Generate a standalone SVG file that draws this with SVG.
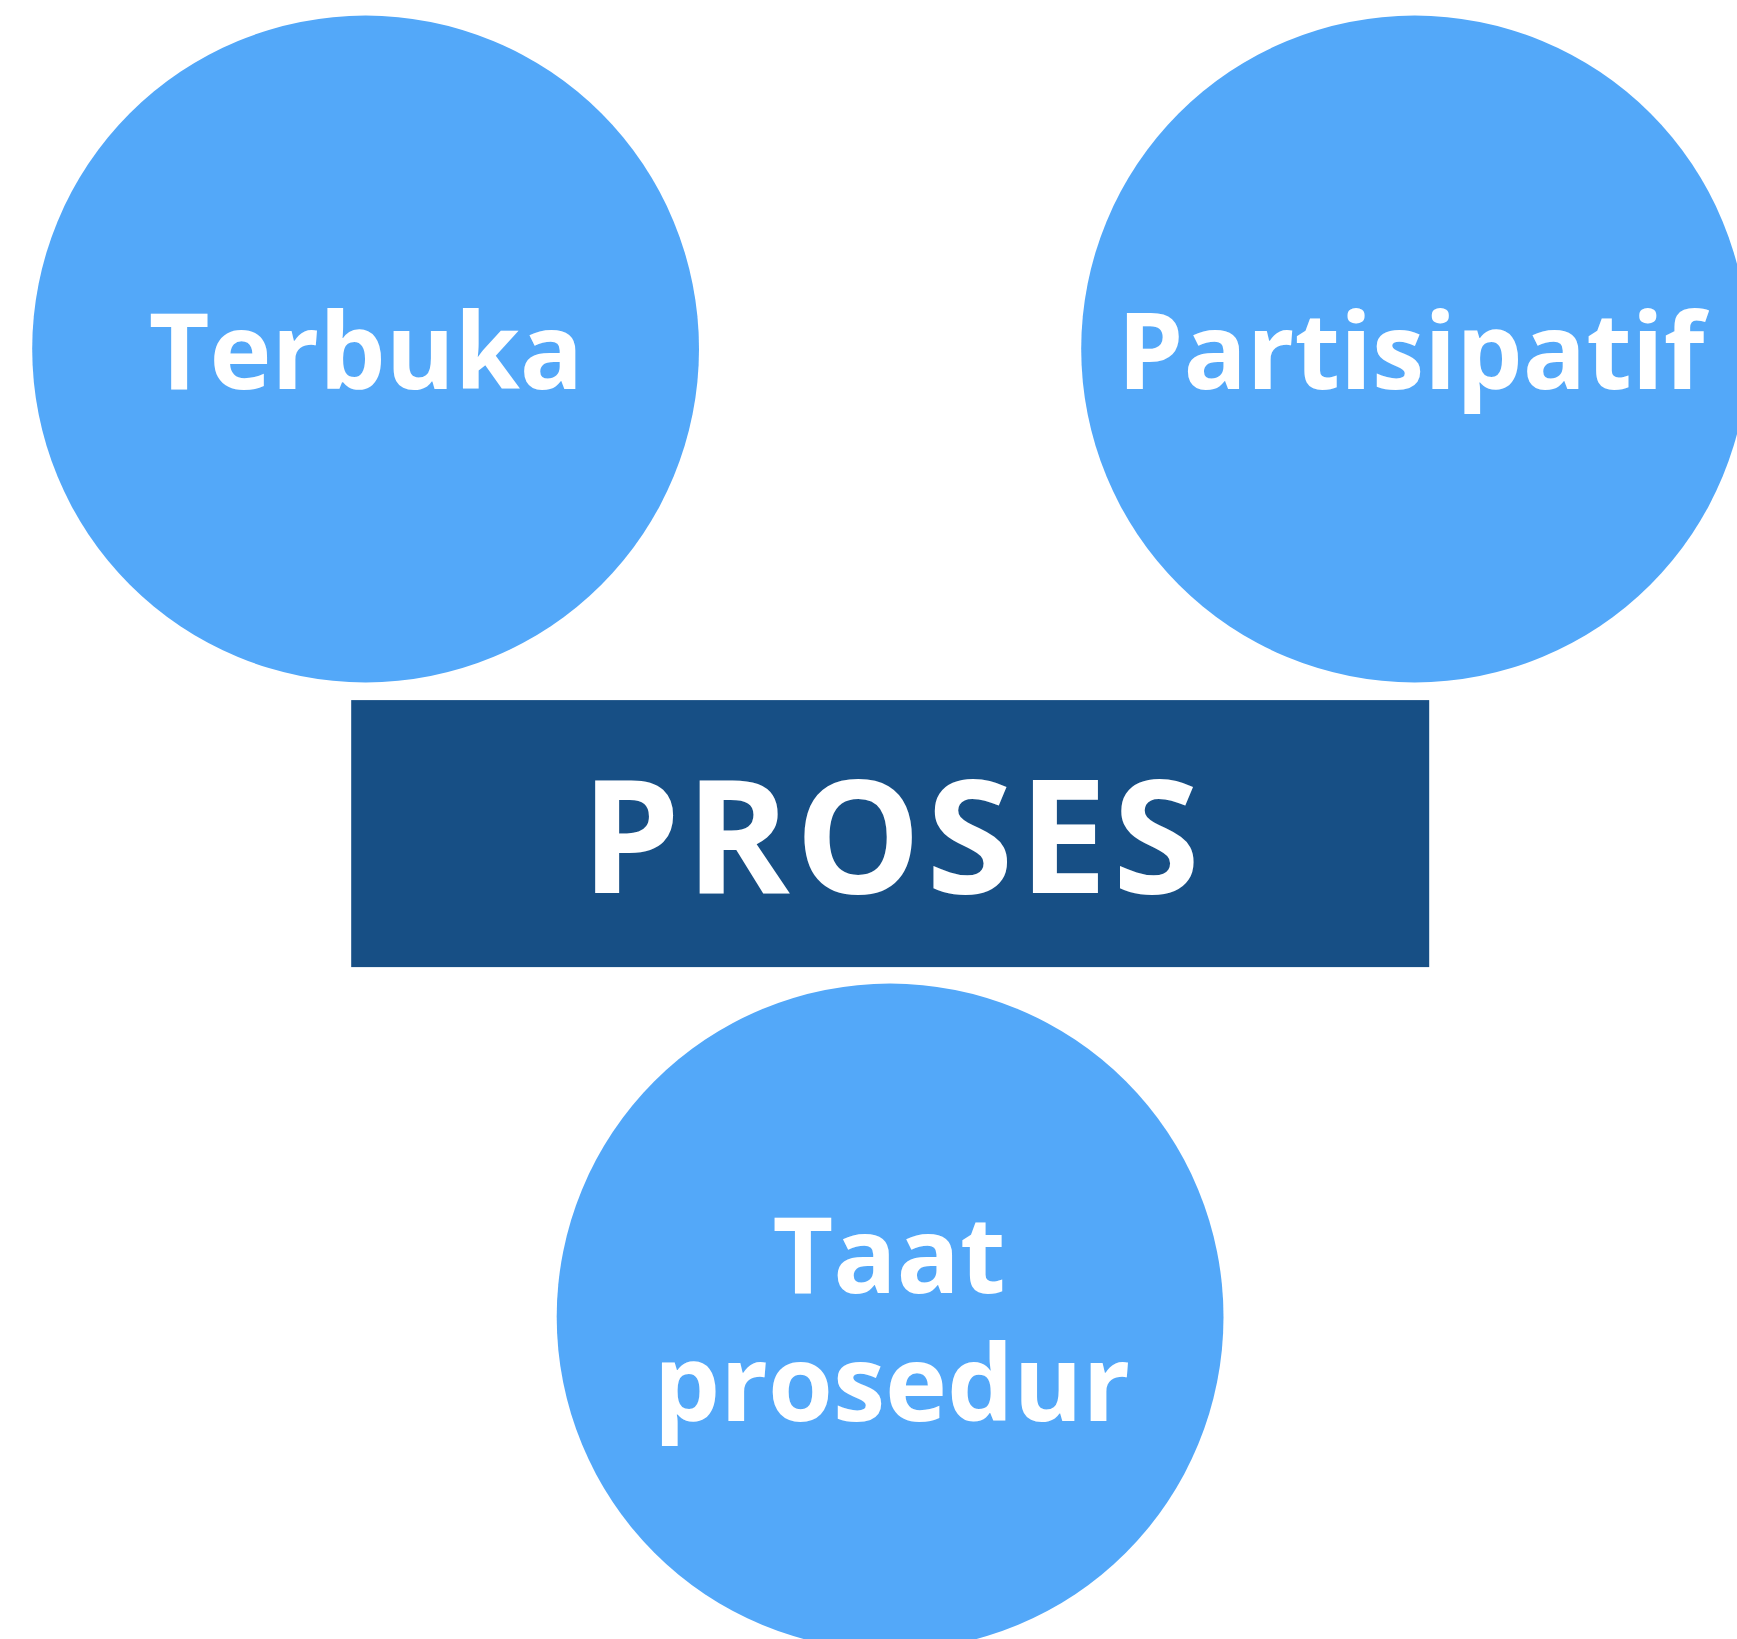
<svg xmlns="http://www.w3.org/2000/svg" width="1737" height="1639" viewBox="0 0 1737 1639">
<style>
.c{fill:#53A8F9}
.r{fill:#174F85}
.t{font-family:"Open Sans","Liberation Sans",sans-serif;font-weight:700;fill:#fff;text-anchor:middle}
.s{font-size:105px}
.b{font-size:158px;letter-spacing:5.4px}
</style>
<rect width="1737" height="1639" fill="#fff"/>
<g id="connectors"/>
<g id="terbuka">
<circle class="c" cx="365.6" cy="349" r="333.4"/>
<text class="t s" x="366" y="389">Terbuka</text>
</g>
<g id="partisipatif">
<circle class="c" cx="1414.6" cy="349" r="333.4"/>
<text class="t s" x="1411" y="389">Partisipatif</text>
</g>
<g id="proses">
<rect class="r" x="351.2" y="700.1" width="1078" height="267"/>
<text class="t b" x="893" y="893">PROSES</text>
</g>
<g id="taat">
<circle class="c" cx="890.1" cy="1317" r="333.4"/>
<text class="t s" x="889" y="1293">Taat<tspan x="892" dy="128.3">prosedur</tspan></text>
</g>
</svg>
